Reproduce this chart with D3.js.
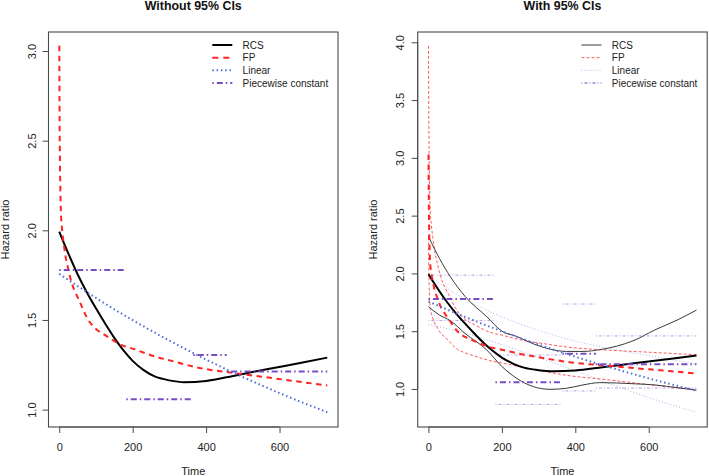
<!DOCTYPE html>
<html>
<head>
<meta charset="utf-8">
<script src="https://cdn.jsdelivr.net/npm/d3@7"></script>
<style>
  html, body { margin: 0; padding: 0; background: #fff; }
  svg { display: block; font-family: "Liberation Sans", Arial, Helvetica, sans-serif; }
</style>
</head>
<body>
<svg id="chart" width="709" height="476"></svg>
<script>
// ---------------- data ----------------
const panelTitles = ["Without 95% CIs", "With 95% CIs"];
const timeTicks = [0, 200, 400, 600];
const yTicksLeft = [1.0, 1.5, 2.0, 2.5, 3.0];
const yTicksRight = [1.0, 1.5, 2.0, 2.5, 3.0, 3.5, 4.0];
const legendLabels = ["RCS", "FP", "Linear", "Piecewise constant"];

// Restricted cubic spline
const rcsTime = [0, 25, 50, 75, 100, 125, 150, 175, 200, 230, 260, 300, 340, 400, 474, 565, 656, 730];
const rcsHR   = [1.993, 1.87, 1.755, 1.655, 1.565, 1.48, 1.40, 1.33, 1.272, 1.22, 1.185, 1.163, 1.153, 1.16, 1.188, 1.225, 1.26, 1.29];
const rcsCITime = [0, 30, 60, 100, 159, 200, 240, 286, 331, 376, 421, 467, 512, 560, 616, 680, 730];
const rcsLower  = [1.712, 1.64, 1.59, 1.48, 1.337, 1.195, 1.093, 1.02, 0.997, 1.006, 1.035, 1.055, 1.052, 1.045, 1.035, 1.01, 0.99];
const rcsUpper  = [2.32, 2.13, 1.97, 1.80, 1.625, 1.50, 1.455, 1.39, 1.345, 1.325, 1.325, 1.34, 1.37, 1.42, 1.51, 1.60, 1.683];

// Fractional polynomial
const fpTime  = [0.2, 1, 2, 3, 5, 8, 12, 16, 25, 35, 45, 55, 79, 100, 125, 170, 200, 261, 300, 388, 473, 564, 655, 730];
const fpHR    = [3.03, 2.62, 2.38, 2.24, 2.08, 2.0, 1.93, 1.87, 1.78, 1.70, 1.65, 1.605, 1.50, 1.45, 1.415, 1.36, 1.34, 1.296, 1.275, 1.23, 1.205, 1.18, 1.155, 1.135];
const fpLower = [2.312, 2.041, 1.892, 1.799, 1.704, 1.654, 1.612, 1.578, 1.524, 1.477, 1.449, 1.416, 1.344, 1.312, 1.286, 1.243, 1.225, 1.185, 1.162, 1.113, 1.085, 1.051, 1.019, 0.993];
const fpUpper = [3.97, 3.364, 2.996, 2.791, 2.540, 2.418, 2.310, 2.216, 2.079, 1.955, 1.879, 1.818, 1.674, 1.602, 1.557, 1.488, 1.466, 1.418, 1.399, 1.359, 1.339, 1.324, 1.309, 1.296];

// Linear (log-linear in time)
const linTime  = [0, 100, 200, 300, 400, 500, 600, 730];
const linHR    = [1.757, 1.623, 1.499, 1.385, 1.279, 1.182, 1.092, 0.985];
const linLower = [1.558, 1.483, 1.384, 1.272, 1.157, 1.038, 0.926, 0.798];
const linUpper = [1.981, 1.776, 1.624, 1.508, 1.414, 1.346, 1.288, 1.215];

// Piecewise constant
const pwStart = [0, 182.5, 365, 456];
const pwEnd   = [182.5, 365, 456, 730];
const pwHR    = [1.779, 1.058, 1.305, 1.213];
const pwLower = [1.593, 0.866, 0.983, 1.008];
const pwUpper = [1.985, 1.294, 1.735, 1.459];

// ---------------- drawing ----------------
const svg = d3.select("#chart");
const FONT = '"Liberation Sans", Arial, Helvetica, sans-serif';

const COL = {
  rcs: "#000000", rcsCI: "#3a3a3a",
  fp: "#ff2323", fpCI: "#ff5a5a",
  lin: "#4f6ddb", linCI: "#a7b6ec",
  pw: "#7a4cc4", pwCI: "#b79ee2"
};

const panels = [
  { x0: 48.5, x1: 338, y0: 32, y1: 427, ydom: [0.903, 3.106], yticks: yTicksLeft,
    title: panelTitles[0], ci: false, ylabX: 9, ytickX: 35.5, legX: 212.3 },
  { x0: 417.7, x1: 707.2, y0: 32, y1: 427, ydom: [0.671, 4.089], yticks: yTicksRight,
    title: panelTitles[1], ci: true, ylabX: 377, ytickX: 403.5, legX: 581.5 }
];

panels.forEach((p, pi) => {
  const x = d3.scaleLinear().domain([-29.2, 759.2]).range([p.x0, p.x1]);
  const y = d3.scaleLinear().domain(p.ydom).range([p.y1, p.y0]);
  const g = svg.append("g");

  const clipId = "clip" + pi;
  svg.append("clipPath").attr("id", clipId)
    .append("rect").attr("x", p.x0).attr("y", p.y0)
    .attr("width", p.x1 - p.x0).attr("height", p.y1 - p.y0);
  const plot = g.append("g").attr("clip-path", `url(#${clipId})`);

  const line = d3.line().x(d => x(d[0])).y(d => y(d[1])).curve(d3.curveMonotoneX);
  const zip = (a, b) => a.map((v, i) => [v, b[i]]);

  function path(data, color, width, dash) {
    plot.append("path").datum(data)
      .attr("d", line).attr("fill", "none")
      .attr("stroke", color).attr("stroke-width", width)
      .attr("stroke-dasharray", dash || null)
      .attr("stroke-linecap", "butt");
  }
  function steps(vals, color, width, dash) {
    pwStart.forEach((s, i) => {
      plot.append("line")
        .attr("x1", x(s)).attr("x2", x(pwEnd[i]))
        .attr("y1", y(vals[i])).attr("y2", y(vals[i]))
        .attr("stroke", color).attr("stroke-width", width)
        .attr("stroke-dasharray", dash);
    });
  }

  const DASH_FP = "5.5,4.5", DOT = "1.5,2.8", DOTDASH = "1.5,3,6,3";
  const DASH_FP_CI = "3,2", DOT_CI = "1,2", DOTDASH_CI = "1,2,3,2";

  if (p.ci) {
    // confidence intervals (thin)
    path(zip(linTime, linUpper), COL.linCI, 1, DOT_CI);
    path(zip(linTime, linLower), COL.linCI, 1, DOT_CI);
    steps(pwUpper, COL.pwCI, 1, DOTDASH_CI);
    steps(pwLower, COL.pwCI, 1, DOTDASH_CI);
    path(zip(fpTime, fpUpper), COL.fpCI, 1, DASH_FP_CI);
    path(zip(fpTime, fpLower), COL.fpCI, 1, DASH_FP_CI);
    path(zip(rcsCITime, rcsUpper), COL.rcsCI, 1, null);
    path(zip(rcsCITime, rcsLower), COL.rcsCI, 1, null);
  }
  // estimates (thick)
  path(zip(rcsTime, rcsHR), COL.rcs, 2, null);
  path(zip(fpTime, fpHR), COL.fp, 2, DASH_FP);
  path(zip(linTime, linHR), COL.lin, 2, DOT);
  steps(pwHR, COL.pw, 2, DOTDASH);

  // box
  g.append("rect").attr("x", p.x0).attr("y", p.y0)
    .attr("width", p.x1 - p.x0).attr("height", p.y1 - p.y0)
    .attr("fill", "none").attr("stroke", "#4a4a4a").attr("stroke-width", 1.1);

  // x axis
  const xa = g.append("g").attr("transform", `translate(0,${p.y1})`)
    .call(d3.axisBottom(x).tickValues(timeTicks).tickSize(6).tickPadding(3).tickFormat(d3.format("d")));
  xa.select(".domain").attr("stroke", "#4a4a4a").attr("d", `M${x(timeTicks[0])},0H${x(timeTicks[timeTicks.length-1])}`);
  xa.selectAll(".tick line").attr("stroke", "#4a4a4a");
  xa.selectAll(".tick text").attr("font-family", FONT).attr("font-size", 11)
    .attr("fill", "#222").attr("dy", null).attr("y", 23.7);

  // y axis
  const ya = g.append("g").attr("transform", `translate(${p.x0},0)`)
    .call(d3.axisLeft(y).tickValues(p.yticks).tickSize(6).tickFormat(d3.format(".1f")));
  ya.select(".domain").attr("stroke", "#4a4a4a")
    .attr("d", `M0,${y(p.yticks[0])}V${y(p.yticks[p.yticks.length-1])}`);
  ya.selectAll(".tick line").attr("stroke", "#4a4a4a");
  ya.selectAll(".tick text").attr("font-family", FONT).attr("font-size", 11)
    .attr("fill", "#222").attr("x", null).attr("dy", null)
    .attr("text-anchor", "middle")
    .attr("transform", `translate(${p.ytickX - p.x0},0) rotate(-90)`);

  // titles and axis labels
  const cx = (p.x0 + p.x1) / 2;
  g.append("text").attr("x", cx).attr("y", 10.3).attr("text-anchor", "middle")
    .attr("font-family", FONT).attr("font-size", 12.4).attr("font-weight", "bold")
    .attr("fill", "#111").text(p.title);
  g.append("text").attr("x", cx).attr("y", 475).attr("text-anchor", "middle")
    .attr("font-family", FONT).attr("font-size", 11).attr("fill", "#222").text("Time");
  g.append("text").attr("transform", `translate(${p.ylabX},${(p.y0 + p.y1) / 2}) rotate(-90)`)
    .attr("text-anchor", "middle").attr("font-family", FONT).attr("font-size", 11)
    .attr("fill", "#222").text("Hazard ratio");

  // legend
  const legY = [45, 57.7, 70.3, 83];
  const legStyles = p.ci
    ? [[COL.rcsCI, 1, null], [COL.fpCI, 1, DASH_FP_CI], [COL.linCI, 1, DOT_CI], [COL.pw, 1, DOTDASH_CI]]
    : [[COL.rcs, 2, null], [COL.fp, 2, "6,5"], [COL.lin, 2, DOT], [COL.pw, 2, DOTDASH]];
  legendLabels.forEach((lab, i) => {
    g.append("line").attr("x1", p.legX).attr("x2", p.legX + 20)
      .attr("y1", legY[i]).attr("y2", legY[i])
      .attr("stroke", legStyles[i][0]).attr("stroke-width", legStyles[i][1])
      .attr("stroke-dasharray", legStyles[i][2]);
    g.append("text").attr("x", p.legX + 30.3).attr("y", legY[i] + 3.6)
      .attr("font-family", FONT).attr("font-size", 10).attr("fill", "#222").text(lab);
  });
});
</script>
</body>
</html>
